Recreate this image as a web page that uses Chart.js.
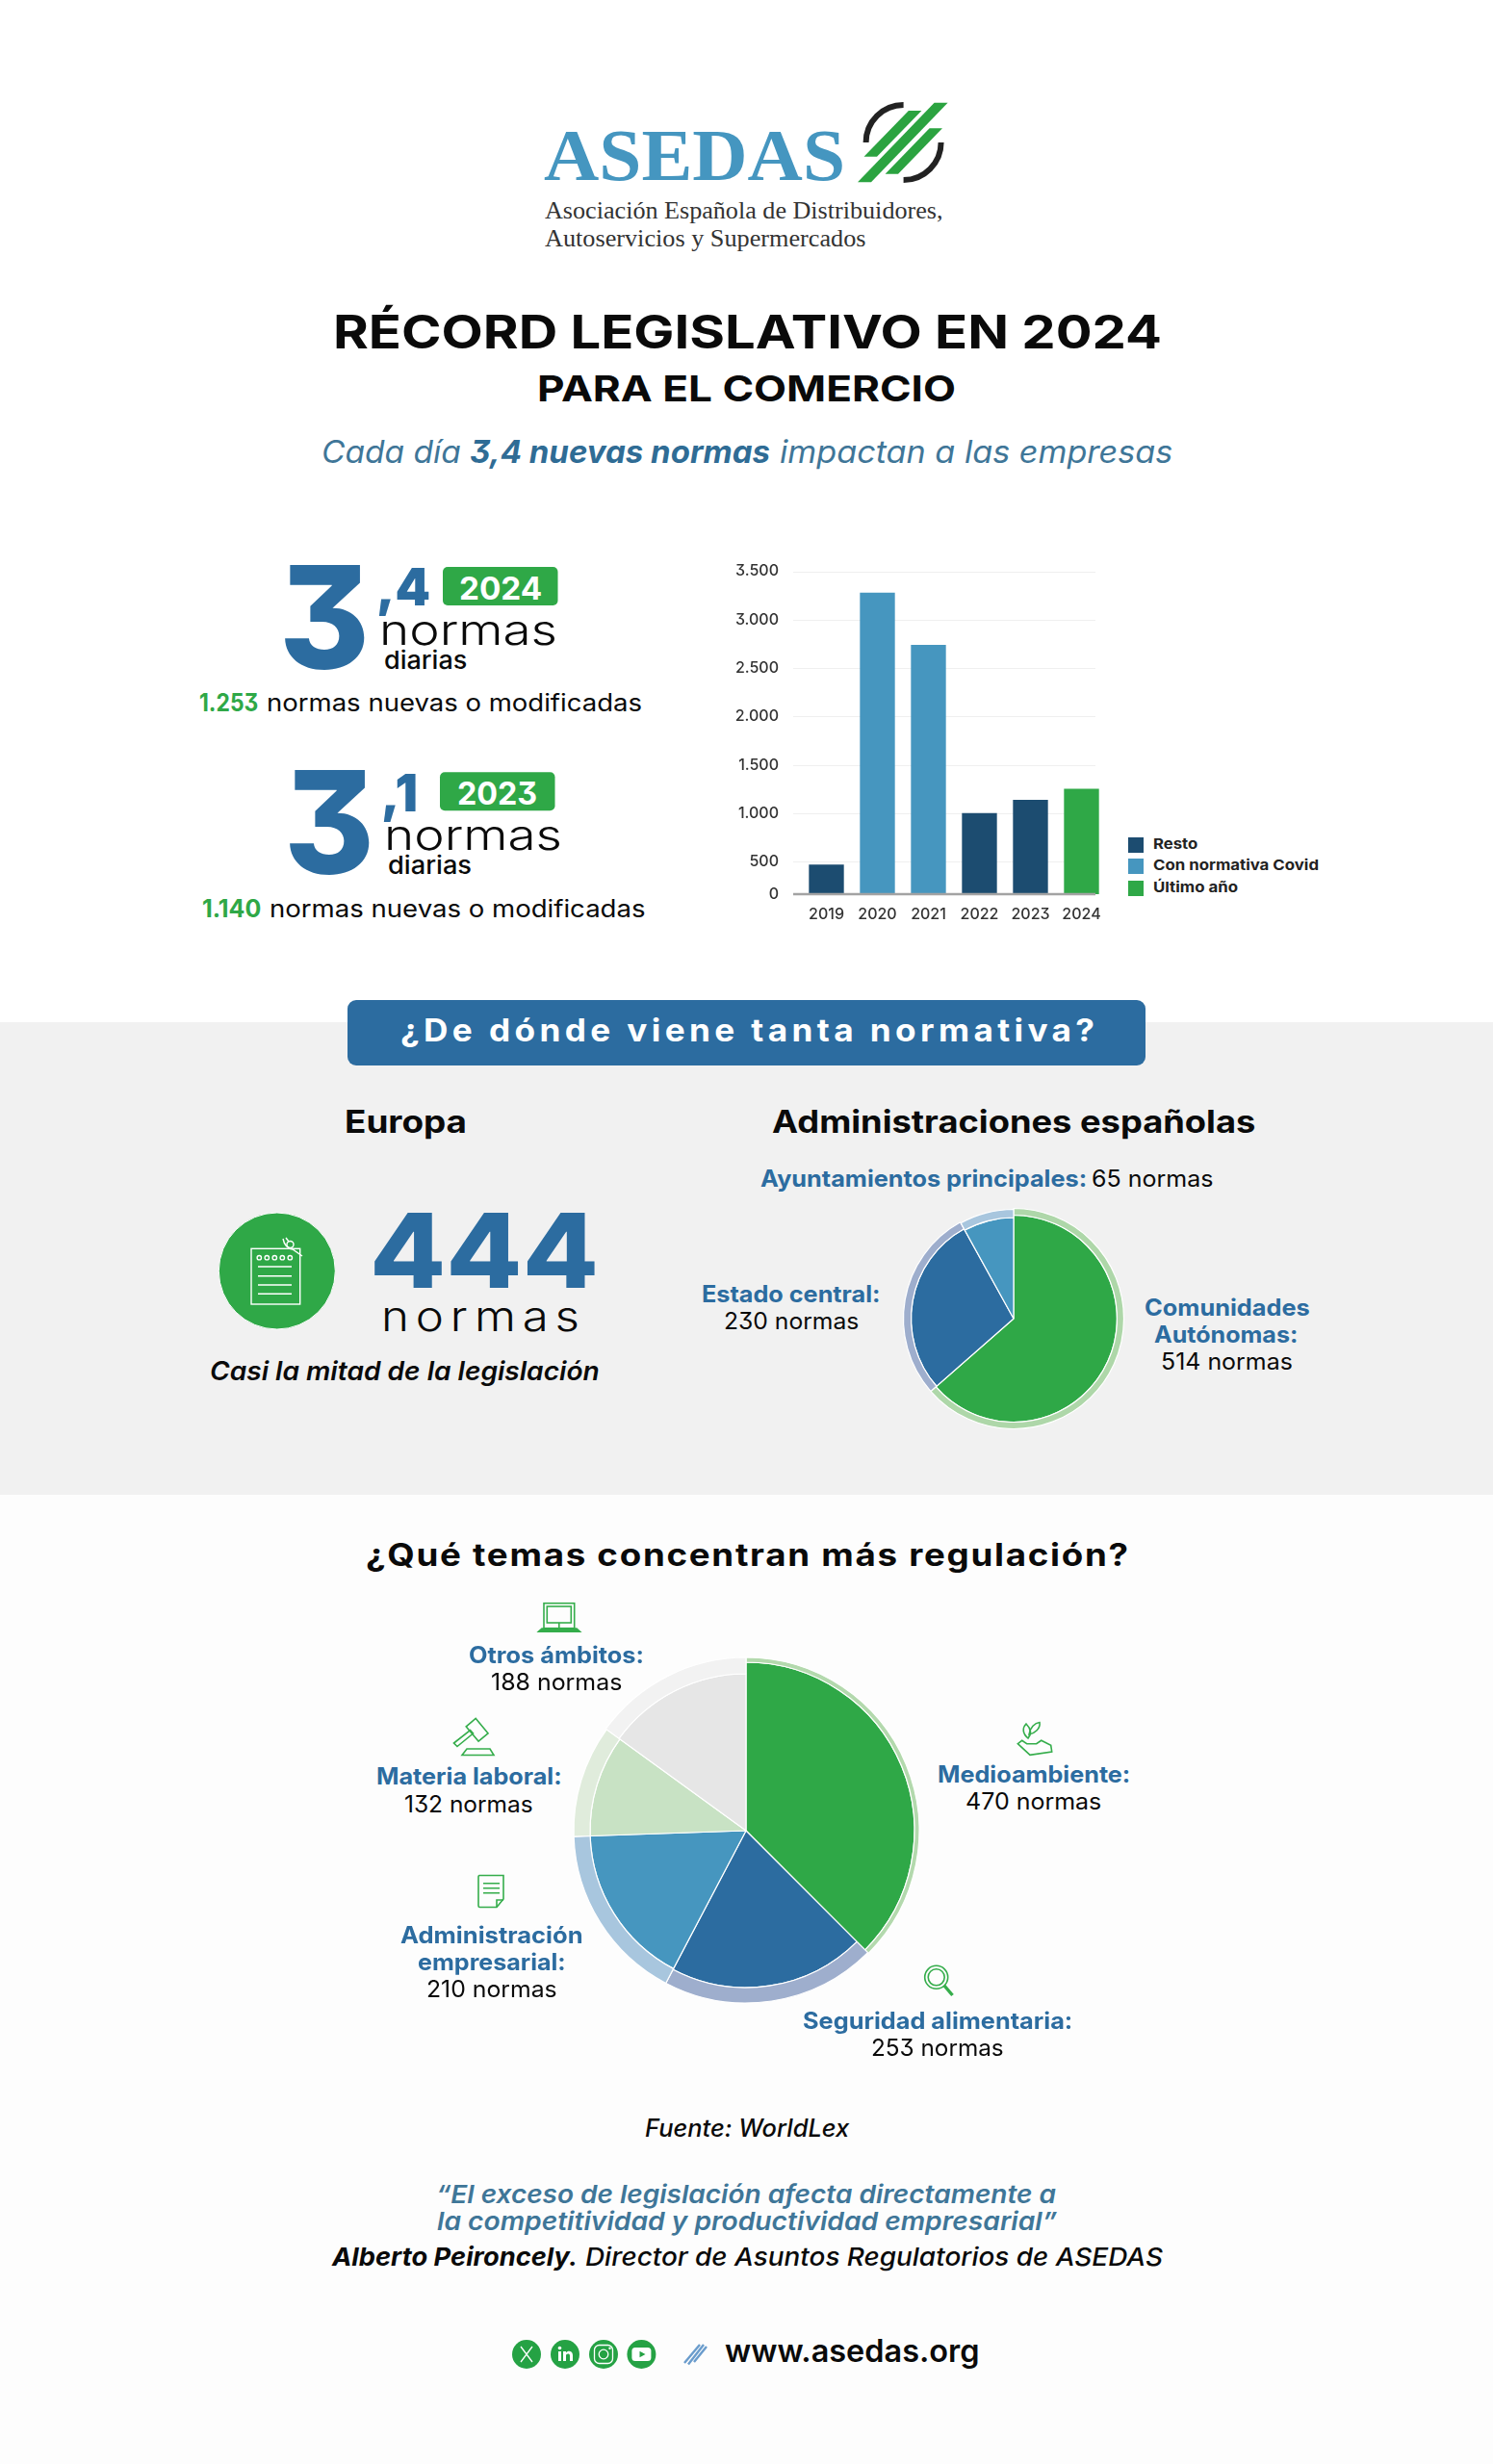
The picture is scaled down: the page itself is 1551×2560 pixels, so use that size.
<!DOCTYPE html>
<html lang="es">
<head>
<meta charset="utf-8">
<title>Récord legislativo en 2024</title>
<script src="https://cdn.jsdelivr.net/npm/chart.js@4"></script>
<style>
  html, body { margin: 0; padding: 0; background: #fff; }
  #page { position: relative; width: 1551px; height: 2560px; overflow: hidden; background: #fff; font-family: Inter, sans-serif; font-feature-settings: "cv09"; }
  .band { position: absolute; left: 0; width: 1551px; }
  canvas { position: absolute; }
  svg { position: absolute; left: 0; top: 0; }
  .t { position: absolute; white-space: nowrap; width: max-content; transform-origin: left top; line-height: 1; }
  .sq { position: absolute; width: 16px; height: 16px; }
</style>
</head>
<body>
<div id="page">
  <div class="band" style="top:1062px;height:491px;background:#f1f1f1"></div>
  <div class="band" style="top:1553px;height:1007px;background:#fdfdfd"></div>
  <div style="position:absolute;left:361px;top:1039px;width:829px;height:68px;border-radius:9px;background:#2c6ca0"></div>

  <svg width="1551" height="2560" viewBox="0 0 1551 2560" fill="none">
    <!-- logo -->
    <g fill="#2ba340">
      <polygon points="891,189.3 905,189.3 984.6,106.7 970.6,106.7"/>
      <polygon points="897.5,162.7 911,162.7 957.4,115 943.9,115"/>
      <polygon points="919.6,180.7 933,180.7 979,133.3 965.6,133.3"/>
    </g>
    <g stroke="#222" stroke-width="6">
      <path d="M938.6 109A39 39 0 0 0 899.6 148"/>
      <path d="M977.6 148A39 39 0 0 1 938.6 187"/>
    </g>
    <!-- year badges -->
    <rect x="460" y="589" width="119.5" height="40" rx="5" fill="#2fa847"/>
    <rect x="457" y="802.3" width="119.5" height="40" rx="5" fill="#2fa847"/>
    <!-- europa icon -->
    <circle cx="287.8" cy="1320.5" r="60.5" fill="#2fa847" stroke="#fff" stroke-width="1"/>
    <g stroke="#fff" stroke-width="1.4">
      <rect x="261" y="1297.3" width="50.7" height="57.7"/>
      <circle cx="269.3" cy="1306.7" r="2.2"/><circle cx="277.3" cy="1306.7" r="2.2"/><circle cx="285.3" cy="1306.7" r="2.2"/><circle cx="293.3" cy="1306.7" r="2.2"/><circle cx="301.3" cy="1306.7" r="2.2"/>
      <path d="M268 1316H303M268 1325.7H303M268 1335H303M268 1344.3H303"/>
      <circle cx="301.5" cy="1293" r="3.5"/>
      <path d="M294 1287C295 1292 298 1297 304 1298L314 1305M297 1286L300 1290"/>
    </g>
    <!-- topic icons -->
    <g stroke="#35ad4b" stroke-width="1.6">
      <rect x="565" y="1665.7" width="31.7" height="26"/>
      <rect x="568.3" y="1669" width="25" height="17"/>
      <path d="M580.8 1686V1691"/>
      <path d="M559.5 1695.2L563 1692H599L602.5 1695.2Z" fill="#35ad4b"/>
      <path d="M471.5 1811L488.5 1797.5L491.5 1801L475 1814.5Z"/>
      <rect x="486.5" y="1788.5" width="13" height="20" transform="rotate(-40 492.7 1794.3)"/>
      <path d="M480 1823.5H513L509 1817H485Z"/>
      <path d="M498 1948.5H523V1973L516 1981.5H498.5A1.5 1.5 0 0 1 497 1980V1950A1.5 1.5 0 0 1 498 1948.5Z"/>
      <path d="M516 1981.5V1974H523"/>
      <path d="M502 1956.7H519M502 1961.7H519M502 1966.7H519"/>
      <path d="M1057.3 1811.7L1070 1823.3L1092.7 1820L1091.7 1813.3L1081.7 1808.3L1076.7 1811.7H1066.7L1061.7 1808.3Z"/>
      <path d="M1068 1806C1062 1801 1062 1795 1066 1791C1071 1796 1072 1801 1068 1806Z"/>
      <path d="M1069 1802C1070 1795 1075 1790 1080 1789.5C1081 1796 1075 1801 1069 1802Z"/>
      <circle cx="972.7" cy="2054.3" r="12"/>
      <circle cx="972.7" cy="2054.3" r="8.5"/>
      <path d="M981 2063L989.5 2073" stroke-width="3.4"/>
    </g>
    <!-- social -->
    <g fill="#25a244">
      <circle cx="547" cy="2446" r="15"/><circle cx="587" cy="2446" r="15"/><circle cx="627" cy="2446" r="15"/><circle cx="666.4" cy="2446" r="15"/>
    </g>
    <g stroke="#fff" stroke-width="1.3">
      <path d="M541 2438L553 2454M553 2438L541 2454"/>
      <rect x="617.5" y="2436.5" width="19" height="19" rx="5"/>
      <circle cx="627" cy="2446" r="4.8"/>
    </g>
    <g fill="#fff">
      <rect x="580" y="2443" width="3" height="10"/><circle cx="581.5" cy="2439.5" r="1.8"/>
      <path d="M585 2443H588V2444.5C589.5 2442 595 2442 595 2447V2453H592V2447.5C592 2444.8 588 2445 588 2447.5V2453H585Z"/>
      <circle cx="633.5" cy="2439.7" r="1.2"/>
      <rect x="656.4" y="2439" width="20" height="14" rx="3.5"/>
    </g>
    <path d="M664.5 2442.7L670.5 2446L664.5 2449.3Z" fill="#25a244"/>
    <path d="M711 2455L727 2436M715 2456.5L731 2436M721 2454L734 2438" stroke="#6a9ccc" stroke-width="2.4"/>
  </svg>

  <canvas id="bars" style="left:760px;top:569px;width:390px;height:400px" width="390" height="400"></canvas>
  <canvas id="pieAdmin" style="left:932.7px;top:1250px;width:240px;height:240px" width="240" height="240"></canvas>
  <canvas id="pieTemas" style="left:585px;top:1711.7px;width:380px;height:380px" width="380" height="380"></canvas>
</div>

<script>
// bar chart: yearly counts, 2024 and 2023 are printed next to it
const years = ['2019', '2020', '2021', '2022', '2023', '2024'];
const resto = [470, null, null, 1003, 1140, null];
const covid = [null, 3279, 2741, null, null, null];
const ultimo = [null, null, null, null, null, 1253];
const legendNames = ['Resto', 'Con normativa Covid', 'Último año'];
// the original axis is cut off below 500 but still says 0 there
const axisFloor = 165;
const yTickValues = [165, 500, 1000, 1500, 2000, 2500, 3000, 3500];
const yTickLabels = ['0', '500', '1.000', '1.500', '2.000', '2.500', '3.000', '3.500'];

// administraciones
const adminNames = ['Comunidades Autónomas', 'Estado central', 'Ayuntamientos principales'];
const adminValues = [514, 230, 65];

// temas
const temaNames = ['Medioambiente', 'Seguridad alimentaria', 'Administración empresarial', 'Materia laboral', 'Otros ámbitos'];
const temaValues = [470, 253, 210, 132, 188];

const BLUE = '#2c6ca0', GREEN = '#2fa847', SKY = '#4696bf', NAVY = '#1c4c70', BLACK = '#0a0a0a', TEAL = '#3f7698';
const page = document.getElementById('page');

// writes one text so that it runs from x0 to x1 on the given baseline
function txt(str, x0, x1, base, size, weight, color, opts = {}) {
    const el = document.createElement('div');
    el.className = 't';
    el.textContent = str;
    el.style.cssText = `left:${x0}px;top:0;font-size:${size}px;font-weight:${weight};color:${color};` +
        `font-family:${opts.family || 'Inter, sans-serif'};font-style:${opts.italic ? 'italic' : 'normal'};` +
        `letter-spacing:${opts.ls || 0}px`;
    const mark = document.createElement('i');
    mark.style.cssText = 'display:inline-block;width:0;height:0';
    el.appendChild(mark);
    page.appendChild(el);
    const box = el.getBoundingClientRect();
    el.style.top = (base - (mark.getBoundingClientRect().bottom - box.top)) + 'px';
    el.style.transform = `scaleX(${(x1 - x0) / (box.width - (opts.ls || 0))})`;
}

// the slice labels all share one size
const lab = (str, x0, x1, base, weight, color) => txt(str, x0 - 1, x1 + 1, base + 1, 24, weight, color);

const SERIF = { family: '"Liberation Serif", serif' };
txt('ASEDAS', 565, 878, 186.7, 77, 700, '#4596c0', SERIF);
txt('Asociación Española de Distribuidores,', 566.3, 979.8, 226.7, 25, 400, '#333', SERIF);
txt('Autoservicios y Supermercados', 566.3, 899.8, 255.7, 25, 400, '#333', SERIF);

txt('RÉCORD LEGISLATIVO EN 2024', 346, 1207, 361.7, 48, 700, BLACK);
txt('PARA EL COMERCIO', 558, 993, 417.3, 37.5, 700, BLACK);
txt('Cada día', 333.8, 478.5, 480.7, 32, 400, TEAL, { italic: true });
txt('3,4 nuevas normas', 488, 800, 480.7, 32, 700, '#2f6c95', { italic: true });
txt('impactan a las empresas', 809.7, 1218, 480.7, 32, 400, TEAL, { italic: true });

// 2024 block
txt('3', 290, 384, 694.5, 149, 800, BLUE);
txt(',4', 391, 447, 629.3, 54, 900, BLUE);
txt('2024', 476.8, 563, 622.7, 32.5, 700, '#fff');
txt('normas', 394, 579, 670, 44, 300, BLACK);
txt('diarias', 398.7, 485, 695, 26, 500, BLACK);
txt('1.253', 206.5, 267.8, 739, 25, 700, GREEN);
txt('normas nuevas o modificadas', 276.5, 666.5, 739, 25, 400, BLACK);

// 2023 block
txt('3', 295, 389, 908, 149, 800, BLUE);
txt(',1', 396, 434, 842.6, 54, 900, BLUE);
txt('2023', 474.8, 558, 836, 32.5, 700, '#fff');
txt('normas', 399, 584, 883.3, 44, 300, BLACK);
txt('diarias', 403, 490, 908.3, 26, 500, BLACK);
txt('1.140', 210, 271.3, 952.5, 25, 700, GREEN);
txt('normas nuevas o modificadas', 279.5, 670, 952.5, 25, 400, BLACK);

// legend of the bars
const legendColors = [NAVY, SKY, GREEN];
const legendTops = [870, 892, 915];
const legendEnds = [1244.3, 1370, 1286];
legendNames.forEach((name, i) => {
    const sq = document.createElement('div');
    sq.className = 'sq';
    sq.style.cssText = `left:1172px;top:${legendTops[i]}px;background:${legendColors[i]}`;
    page.appendChild(sq);
    txt(name, 1198, legendEnds[i], legendTops[i] + 12, 15, 700, '#222');
});

// grey band
txt('¿De dónde viene tanta normativa?', 416, 1137, 1082.3, 32, 700, '#fff', { ls: 4 });
txt('Europa', 358, 485, 1176.7, 32, 700, BLACK);
txt('Administraciones españolas', 801.7, 1304, 1177.3, 32, 700, BLACK);
txt('444', 384, 622, 1338.3, 107, 800, BLUE);
txt('normas', 396, 602, 1382.7, 43, 300, BLACK, { ls: 6 });
txt('Casi la mitad de la legislación', 218, 622.7, 1433.8, 27, 600, BLACK, { italic: true });

lab('Ayuntamientos principales:', 790.6, 1127.7, 1231.7, 700, BLUE);
lab(adminValues[2] + ' normas', 1135, 1259.4, 1231.7, 400, BLACK);
lab('Estado central:', 730, 913.4, 1351.7, 700, BLUE);
lab(adminValues[1] + ' normas', 752.7, 891, 1380, 400, BLACK);
lab('Comunidades', 1189.7, 1359.4, 1365.7, 700, BLUE);
lab('Autónomas:', 1200, 1347.3, 1394, 700, BLUE);
lab(adminValues[0] + ' normas', 1206.7, 1341.5, 1422.3, 400, BLACK);

// temas
txt('¿Qué temas concentran más regulación?', 380, 1172, 1627.3, 32, 700, BLACK, { ls: 1.5 });
lab('Otros ámbitos:', 487.7, 667.7, 1726.7, 700, BLUE);
lab(temaValues[4] + ' normas', 511, 645.3, 1755, 400, BLACK);
lab('Materia laboral:', 391.7, 582.3, 1853.3, 700, BLUE);
lab(temaValues[3] + ' normas', 420.7, 552.3, 1881.7, 400, BLACK);
lab('Administración', 416.7, 604.3, 2017.7, 700, BLUE);
lab('empresarial:', 435, 586.7, 2046, 700, BLUE);
lab(temaValues[2] + ' normas', 444, 577.7, 2074.3, 400, BLACK);
lab('Medioambiente:', 975, 1173.3, 1851, 700, BLUE);
lab(temaValues[0] + ' normas', 1004, 1143.3, 1879.3, 400, BLACK);
lab('Seguridad alimentaria:', 835, 1113.3, 2106.7, 700, BLUE);
lab(temaValues[1] + ' normas', 906, 1041.7, 2135, 400, BLACK);

txt('Fuente: WorldLex', 669.7, 882, 2219.5, 25, 500, BLACK, { italic: true });
txt('“El exceso de legislación afecta directamente a', 453, 1097, 2289, 26, 600, TEAL, { italic: true });
txt('la competitividad y productividad empresarial”', 454, 1098, 2316.7, 26, 600, TEAL, { italic: true });
txt('Alberto Peironcely.', 345, 600, 2354.3, 26, 700, BLACK, { italic: true });
txt('Director de Asuntos Regulatorios de ASEDAS', 608, 1208, 2354.3, 26, 500, BLACK, { italic: true });
txt('www.asedas.org', 753.3, 1017.8, 2454.3, 32, 600, BLACK);

// grid and base line run a little to the left of the bars, so they are drawn by hand on the y scale
const barGuides = {
    id: 'barGuides',
    beforeDatasetsDraw(chart) {
        const { ctx, scales: { y } } = chart;
        ctx.save();
        ctx.strokeStyle = '#efefef';
        ctx.lineWidth = 1;
        yTickValues.slice(1).forEach(v => {
            const py = Math.round(y.getPixelForValue(v)) + 0.5;
            ctx.beginPath();
            ctx.moveTo(64, py);
            ctx.lineTo(378, py);
            ctx.stroke();
        });
        ctx.restore();
    },
    afterDatasetsDraw(chart) {
        const { ctx, scales: { y } } = chart;
        const py = y.getPixelForValue(axisFloor);
        ctx.save();
        ctx.strokeStyle = '#a3a3a3';
        ctx.lineWidth = 2.5;
        ctx.beginPath();
        ctx.moveTo(64, py);
        ctx.lineTo(378, py);
        ctx.stroke();
        ctx.restore();
    }
};

new Chart(document.getElementById('bars'), {
    type: 'bar',
    data: {
        labels: years,
        datasets: [
            { label: legendNames[0], data: resto, backgroundColor: NAVY },
            { label: legendNames[1], data: covid, backgroundColor: SKY },
            { label: legendNames[2], data: ultimo, backgroundColor: GREEN }
        ]
    },
    options: {
        responsive: false,
        animation: false,
        events: [],
        grouped: false,
        categoryPercentage: 1,
        barPercentage: 0.686,
        layout: { padding: { top: 13 } },
        plugins: { legend: { display: false }, tooltip: { enabled: false } },
        scales: {
            x: {
                grid: { display: false },
                border: { display: false },
                afterFit: s => { s.height = 40; },
                ticks: { color: '#333', padding: 4, maxRotation: 0, font: { family: 'Inter', size: 16, weight: 500 } }
            },
            y: {
                min: axisFloor,
                max: 3500,
                grid: { display: false },
                border: { display: false },
                afterFit: s => { s.width = 72; },
                afterBuildTicks: s => { s.ticks = yTickValues.map(value => ({ value })); },
                ticks: {
                    autoSkip: false,
                    color: '#333',
                    padding: 15,
                    font: { family: 'Inter', size: 16, weight: 500 },
                    callback: v => yTickLabels[yTickValues.indexOf(v)]
                }
            }
        }
    },
    plugins: [barGuides]
});

// every slice has a filled part and a paler rim, and the rim width differs per slice.
// the doughnut controller can't do that, so the radii get set after its update.
function rimPie(canvasId, labels, values, fillColors, rimColors, fillRadii, rimRadii) {
    return new Chart(document.getElementById(canvasId), {
        type: 'pie',
        data: {
            labels,
            datasets: [
                { data: values, backgroundColor: rimColors, borderColor: '#fff', borderWidth: 1.2 },
                { data: values, backgroundColor: fillColors, borderColor: '#fff', borderWidth: 1.2 }
            ]
        },
        options: {
            responsive: false,
            animation: false,
            events: [],
            plugins: { legend: { display: false }, tooltip: { enabled: false } }
        },
        plugins: [{
            id: 'rimRadii',
            afterDatasetsUpdate(chart) {
                chart.getDatasetMeta(0).data.forEach((arc, i) => {
                    arc.outerRadius = rimRadii[i];
                    arc.innerRadius = fillRadii[i];
                });
                chart.getDatasetMeta(1).data.forEach((arc, i) => {
                    arc.outerRadius = fillRadii[i];
                    arc.innerRadius = 0;
                });
            }
        }]
    });
}

rimPie('pieAdmin', adminNames, adminValues,
    [GREEN, BLUE, SKY],
    ['#aed7a9', '#9eaecd', '#a8c6de'],
    [107.5, 106.5, 105],
    [114.5, 114.5, 113.5]);

rimPie('pieTemas', temaNames, temaValues,
    [GREEN, BLUE, SKY, '#c8e2c4', '#e6e6e6'],
    ['#b3d9ad', '#9eaecd', '#a8c6de', '#e0ecdc', '#f2f2f2'],
    [175, 163, 162, 162, 163],
    [180, 179, 179, 179, 180]);
</script>
</body>
</html>
